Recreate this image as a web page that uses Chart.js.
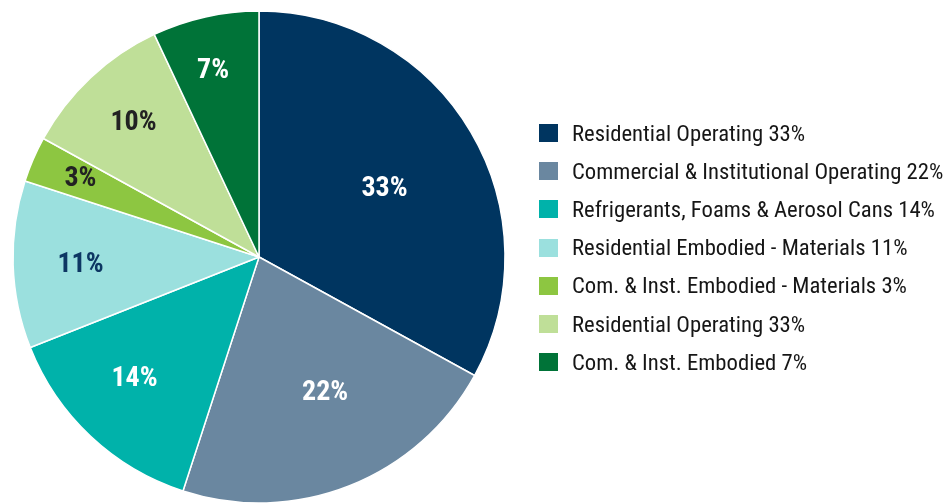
<!DOCTYPE html>
<html>
<head>
<meta charset="utf-8">
<script src="https://cdn.jsdelivr.net/npm/chart.js@4/dist/chart.umd.min.js"></script>
<style>
  html, body { margin: 0; padding: 0; background: #ffffff; }
  #wrap { position: relative; width: 945px; height: 503px; overflow: hidden; }
  #c { position: absolute; left: 0; top: 0; }
  #legend { position: absolute; left: 539px; top: 114px; margin: 0; padding: 0; list-style: none;
            font-family: "Liberation Sans Narrow", "Roboto Condensed", "DejaVu Sans Condensed", sans-serif;
            font-size: 22.7px; color: #161616; }
  #legend li { height: 38.2px; display: flex; align-items: center; white-space: nowrap; }
  #legend .sw { width: 19px; height: 18px; margin-right: 14px; flex: none; }
</style>
</head>
<body>
<div id="wrap">
  <canvas id="c" width="945" height="503"></canvas>
  <ul id="legend"></ul>
</div>
<script>
const categories = [
  "Residential Operating 33%",
  "Commercial & Institutional Operating 22%",
  "Refrigerants, Foams & Aerosol Cans 14%",
  "Residential Embodied - Materials 11%",
  "Com. & Inst. Embodied - Materials 3%",
  "Residential Operating 33%",
  "Com. & Inst. Embodied 7%"
];
const values = [33, 22, 14, 11, 3, 10, 7];
const sliceLabels = ["33%", "22%", "14%", "11%", "3%", "10%", "7%"];
const colors = ["#003560", "#6a87a0", "#00b2aa", "#9be0de", "#8dc641", "#bfdf98", "#007338"];
const labelColors = ["#ffffff", "#ffffff", "#ffffff", "#0d3763", "#222222", "#222222", "#ffffff"];
const labelRadius = [0.582, 0.611, 0.706, 0.726, 0.794, 0.748, 0.783];
const labelAngleShift = [1.8, -4.5, 2.6, -0.4, 0.5, 0.2, -1.2];

const sliceLabelPlugin = {
  id: 'sliceLabels',
  afterDatasetsDraw(chart) {
    const ctx = chart.ctx;
    const meta = chart.getDatasetMeta(0);
    ctx.save();
    ctx.font = 'bold 28px "Liberation Sans Narrow", "Roboto Condensed", "DejaVu Sans Condensed", sans-serif';
    ctx.textAlign = 'center';
    ctx.textBaseline = 'middle';
    meta.data.forEach((arc, i) => {
      const p = arc.getProps(['x', 'y', 'startAngle', 'endAngle', 'outerRadius'], true);
      const mid = (p.startAngle + p.endAngle) / 2 + labelAngleShift[i] * Math.PI / 180;
      const r = p.outerRadius * labelRadius[i];
      ctx.fillStyle = labelColors[i];
      ctx.fillText(sliceLabels[i], p.x + Math.cos(mid) * r, p.y + Math.sin(mid) * r + 1);
    });
    ctx.restore();
  }
};

new Chart(document.getElementById('c'), {
  type: 'pie',
  data: {
    labels: categories,
    datasets: [{
      data: values,
      backgroundColor: colors,
      borderColor: '#ffffff',
      borderWidth: 1.5
    }]
  },
  options: {
    responsive: false,
    animation: false,
    radius: 246,
    layout: { padding: { top: 11, bottom: 0, left: 13, right: 440 } },
    plugins: {
      legend: { display: false },
      tooltip: { enabled: false }
    }
  },
  plugins: [sliceLabelPlugin]
});

const ul = document.getElementById('legend');
categories.forEach((name, i) => {
  const li = document.createElement('li');
  const sw = document.createElement('span');
  sw.className = 'sw';
  sw.style.background = colors[i];
  const tx = document.createElement('span');
  tx.textContent = name;
  li.appendChild(sw);
  li.appendChild(tx);
  ul.appendChild(li);
});
</script>
</body>
</html>
